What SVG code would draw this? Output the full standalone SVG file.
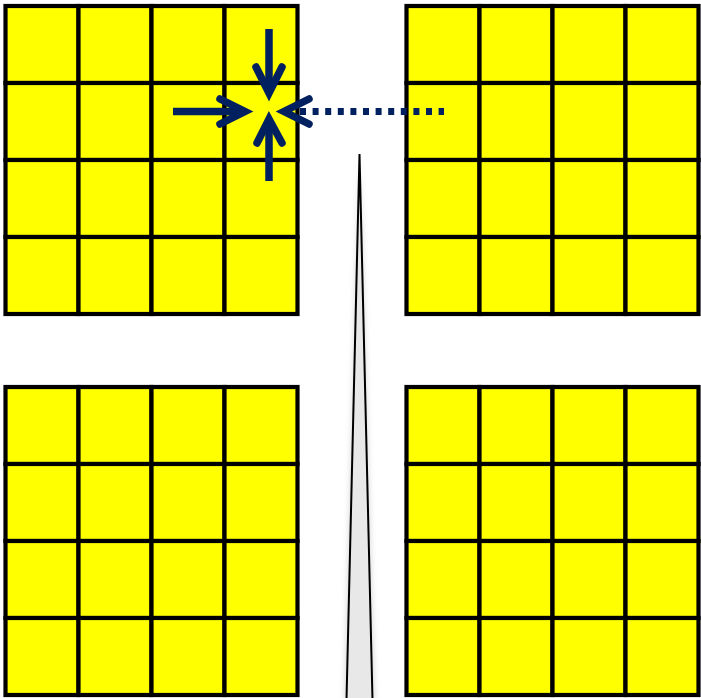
<svg xmlns="http://www.w3.org/2000/svg" xmlns:xlink="http://www.w3.org/1999/xlink" width="701" height="698" viewBox="0 0 701 698">
  <style>
    .cell { fill: #FFFF00; stroke: #000000; stroke-width: 4.2; }
    .shaft { fill: none; stroke: #002060; stroke-width: 7.5; }
    .head { fill: none; stroke: #002060; stroke-width: 7.5; stroke-linecap: round; stroke-linejoin: miter; }
    .dotted { fill: none; stroke: #002060; stroke-width: 7; stroke-dasharray: 6 6.6; }
    .wedge { fill: #E8E8E8; stroke: #000000; stroke-width: 2; stroke-linejoin: miter; }
  </style>
  <defs>
    <filter id="soft" x="-1" y="-0.1" width="3" height="1.2">
      <feGaussianBlur stdDeviation="3"/>
    </filter>
    <g id="grid">
      <rect class="cell" x="0" y="0" width="73" height="77"/>
      <rect class="cell" x="73" y="0" width="73" height="77"/>
      <rect class="cell" x="146" y="0" width="73" height="77"/>
      <rect class="cell" x="219" y="0" width="73" height="77"/>
      <rect class="cell" x="0" y="77" width="73" height="77"/>
      <rect class="cell" x="73" y="77" width="73" height="77"/>
      <rect class="cell" x="146" y="77" width="73" height="77"/>
      <rect class="cell" x="219" y="77" width="73" height="77"/>
      <rect class="cell" x="0" y="154" width="73" height="77"/>
      <rect class="cell" x="73" y="154" width="73" height="77"/>
      <rect class="cell" x="146" y="154" width="73" height="77"/>
      <rect class="cell" x="219" y="154" width="73" height="77"/>
      <rect class="cell" x="0" y="231" width="73" height="77"/>
      <rect class="cell" x="73" y="231" width="73" height="77"/>
      <rect class="cell" x="146" y="231" width="73" height="77"/>
      <rect class="cell" x="219" y="231" width="73" height="77"/>
    </g>
  </defs>
  <rect width="701" height="698" fill="#FFFFFF"/>

  <g id="grid-top-left"><use xlink:href="#grid" x="5.5" y="6"/></g>
  <g id="grid-top-right"><use xlink:href="#grid" x="406.5" y="6"/></g>
  <g id="grid-bottom-left"><use xlink:href="#grid" x="5.5" y="387"/></g>
  <g id="grid-bottom-right"><use xlink:href="#grid" x="406.5" y="387"/></g>

  <g id="wedge">
    <polygon points="359.5,156 345,700 374,700" fill="#999999" opacity="0.45" filter="url(#soft)"/>
    <polygon class="wedge" points="359.5,154 346.5,700 372.5,700"/>
  </g>

  <g id="connectors">
    <!-- down arrow -->
    <line class="shaft" x1="269" y1="29" x2="269" y2="90"/>
    <polyline class="head" points="256,67 269,93 282,67"/>
    <!-- right arrow -->
    <line class="shaft" x1="173" y1="111.5" x2="242" y2="111.5"/>
    <polyline class="head" points="220,99 245,111.5 220,124"/>
    <!-- up arrow -->
    <line class="shaft" x1="269" y1="181" x2="269" y2="122"/>
    <polyline class="head" points="257,143 269,119 282,143"/>
    <!-- dotted left arrow -->
    <line class="dotted" x1="300" y1="111.5" x2="444" y2="111.5"/>
    <polyline class="head" points="309,99 284,111.5 309,124"/>
  </g>
</svg>
